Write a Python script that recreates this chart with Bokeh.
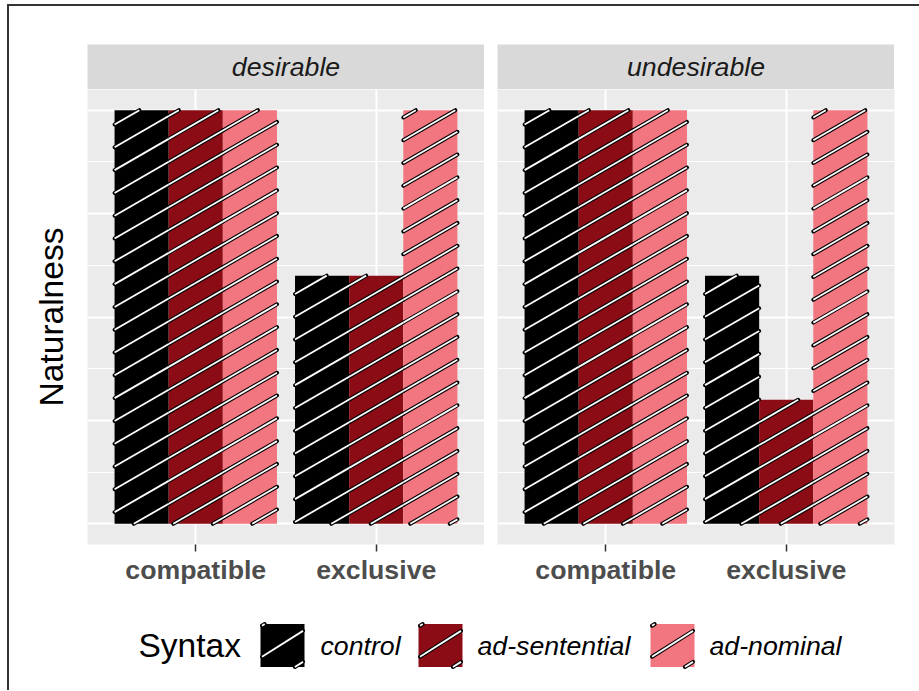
import math

from bokeh.plotting import figure
from bokeh.layouts import column, row
from bokeh.models import Spacer, FixedTicker, Range1d, ColumnDataSource
from bokeh.embed import file_html
from bokeh.resources import INLINE
from bokeh.core.properties import value

# ---- data -------------------------------------------------------------
conditions = ["compatible", "exclusive"]
syntax_levels = ["control", "ad-sentential", "ad-nominal"]
facets = ["desirable", "undesirable"]

desirable_control = [4.0, 2.4]
desirable_ad_sentential = [4.0, 2.4]
desirable_ad_nominal = [4.0, 4.0]

undesirable_control = [4.0, 2.4]
undesirable_ad_sentential = [4.0, 1.2]
undesirable_ad_nominal = [4.0, 4.0]

naturalness = {
    "desirable": [desirable_control, desirable_ad_sentential, desirable_ad_nominal],
    "undesirable": [undesirable_control, undesirable_ad_sentential, undesirable_ad_nominal],
}

# ---- styling ----------------------------------------------------------
FILLS = ["#000000", "#8C0C16", "#F27680"]
FONT = "Liberation Sans"
PANEL_BG = "#EBEBEB"
STRIP_BG = "#D9D9D9"

FRAME_W, FRAME_H = 397, 455
X_RANGE = (0.4, 2.6)
Y_RANGE = (-0.2, 4.2)
BAR_W = 0.3
STRIPE_ANGLE = 30.0      # degrees, on screen
STRIPE_GAP_PX = 22.8     # vertical distance between stripes, pixels
STRIPE_EDGE_W = 4.0
STRIPE_CORE_W = 1.8

LEFT = 78                # room for the y-axis title
GAP = 13                 # between facets
RIGHT = 25
BOTTOM = 55              # tick labels
STRIP_H = 45


def stripe_segments(x0, x1, y0, y1, slope, gap, phase=0.0):
    """Clip the family of lines y = slope*x + phase + k*gap to a rectangle."""
    xs, ys = [], []
    kmin = math.floor((y0 - slope * x1 - phase) / gap) - 1
    kmax = math.ceil((y1 - slope * x0 - phase) / gap) + 1
    for k in range(kmin, kmax + 1):
        c = phase + k * gap
        xa = max(x0, (y0 - c) / slope)
        xb = min(x1, (y1 - c) / slope)
        if xb - xa > 1e-9:
            xs.append([xa, xb])
            ys.append([slope * xa + c, slope * xb + c])
    return xs, ys


def draw_stripes(p, xs, ys):
    p.multi_line(xs, ys, line_color="black", line_width=STRIPE_EDGE_W, line_cap="round")
    p.multi_line(xs, ys, line_color="white", line_width=STRIPE_CORE_W, line_cap="butt")


def facet_figure(name, first):
    p = figure(
        width=(LEFT if first else GAP) + FRAME_W + (0 if first else RIGHT),
        height=FRAME_H + BOTTOM,
        x_range=Range1d(*X_RANGE), y_range=Range1d(*Y_RANGE),
        min_border_left=LEFT if first else GAP,
        min_border_right=0 if first else RIGHT,
        min_border_top=0, min_border_bottom=BOTTOM,
        output_backend="svg", toolbar_location=None,
    )
    p.background_fill_color = PANEL_BG
    p.border_fill_color = "white"
    p.outline_line_color = None

    # grid
    p.xgrid.ticker = FixedTicker(ticks=[1, 2])
    p.xgrid.grid_line_color = "white"
    p.xgrid.grid_line_width = 2.0
    p.ygrid.ticker = FixedTicker(ticks=[0, 1, 2, 3, 4], minor_ticks=[0.5, 1.5, 2.5, 3.5])
    p.ygrid.grid_line_color = "white"
    p.ygrid.grid_line_width = 2.0
    p.ygrid.minor_grid_line_color = "white"
    p.ygrid.minor_grid_line_width = 1.2

    # x axis
    p.xaxis.ticker = FixedTicker(ticks=[1, 2])
    p.xaxis.major_label_overrides = {1: conditions[0], 2: conditions[1]}
    p.xaxis.axis_line_color = None
    p.xaxis.minor_tick_line_color = None
    p.xaxis.major_tick_line_color = "#333333"
    p.xaxis.major_tick_line_width = 1.5
    p.xaxis.major_tick_in = 0
    p.xaxis.major_tick_out = 7
    p.xaxis.major_label_standoff = 3
    p.xaxis.major_label_text_font = FONT
    p.xaxis.major_label_text_font_size = "26.7px"
    p.xaxis.major_label_text_font_style = "bold"
    p.xaxis.major_label_text_color = "#4D4D4D"

    # y axis: title only
    if first:
        p.yaxis.ticker = FixedTicker(ticks=[])
        p.yaxis.axis_line_color = None
        p.yaxis.major_tick_line_color = None
        p.yaxis.minor_tick_line_color = None
        p.yaxis.major_label_text_font_size = "0px"
        p.yaxis.axis_label = "Naturalness"
        p.yaxis.axis_label_text_font = FONT
        p.yaxis.axis_label_text_font_size = "33.5px"
        p.yaxis.axis_label_text_font_style = "normal"
        p.yaxis.axis_label_text_color = "black"
        p.yaxis.axis_label_standoff = 18
    else:
        p.yaxis.visible = False

    # bars
    series = naturalness[name]
    px_per_x = FRAME_W / (X_RANGE[1] - X_RANGE[0])
    px_per_y = FRAME_H / (Y_RANGE[1] - Y_RANGE[0])
    slope = math.tan(math.radians(STRIPE_ANGLE)) * px_per_x / px_per_y
    gap = STRIPE_GAP_PX / px_per_y

    sx, sy = [], []
    for j, (level, vals) in enumerate(zip(syntax_levels, series)):
        xpos = [i + 1 + (j - 1) * BAR_W for i in range(len(conditions))]
        src = ColumnDataSource(dict(x=xpos, top=vals, cond=conditions,
                                    syntax=[level] * len(vals)))
        p.vbar(x="x", top="top", bottom=0, width=BAR_W, source=src,
               fill_color=FILLS[j], line_color=None)
        for x, top in zip(xpos, vals):
            xs, ys = stripe_segments(x - BAR_W / 2, x + BAR_W / 2, 0.0, top, slope, gap)
            sx += xs
            sy += ys

    draw_stripes(p, sx, sy)
    return p


def strip_figure(name):
    s = figure(width=FRAME_W, height=STRIP_H, x_range=Range1d(0, 1), y_range=Range1d(0, 1),
               min_border=0, x_axis_location=None, y_axis_location=None,
               output_backend="svg", toolbar_location=None)
    s.background_fill_color = STRIP_BG
    s.border_fill_color = STRIP_BG
    s.outline_line_color = None
    s.grid.visible = False
    s.text(x=[0.5], y=[0.5], text=[name], text_font=value(FONT), text_font_size="26.7px",
           text_font_style="italic", text_color="#1A1A1A",
           text_align="center", text_baseline="middle")
    return s


p1 = facet_figure(facets[0], True)
p2 = facet_figure(facets[1], False)
strips = row(Spacer(width=LEFT), strip_figure(facets[0]), Spacer(width=GAP), strip_figure(facets[1]))

# ---- legend -----------------------------------------------------------
LEG_W = p1.width + p2.width
LEG_H = 91
KEY_W, KEY_H = 44, 43
KEY_LEFT = [251, 409, 641]
LABEL_LEFT = [311, 468, 700]
LEG_CY = 45

leg = figure(width=LEG_W, height=LEG_H, x_range=Range1d(0, LEG_W), y_range=Range1d(0, LEG_H),
             min_border=0, x_axis_location=None, y_axis_location=None,
             output_backend="svg", toolbar_location=None)
leg.background_fill_color = "white"
leg.border_fill_color = "white"
leg.outline_line_color = None
leg.grid.visible = False

leg.text(x=[129], y=[LEG_CY], text=["Syntax"], text_font=value(FONT), text_font_size="33.5px",
         text_color="black", text_align="left", text_baseline="middle")

kx = [k + KEY_W / 2 for k in KEY_LEFT]
leg.rect(x=kx, y=[LEG_CY] * 3, width=KEY_W, height=KEY_H, fill_color=FILLS, line_color=None)
leg.text(x=LABEL_LEFT, y=[LEG_CY] * 3, text=syntax_levels, text_font=value(FONT),
         text_font_size="26.7px", text_font_style="italic", text_color="black",
         text_align="left", text_baseline="middle")

ksx, ksy = [], []
key_slope = 0.63
for k in KEY_LEFT:
    x0, x1 = k + 1.5, k + KEY_W - 1.5
    y0, y1 = LEG_CY - KEY_H / 2, LEG_CY + KEY_H / 2
    phase = LEG_CY + 1.7 - key_slope * (k + KEY_W / 2)
    xs, ys = stripe_segments(x0, x1, y0, y1, key_slope, 31.0, phase)
    ksx += xs
    ksy += ys
draw_stripes(leg, ksx, ksy)

layout = column(
    Spacer(height=38),
    strips,
    row(p1, p2),
    leg,
    margin=(4, 0, 0, 7),
    styles={"border-top": "2px solid #333333", "border-left": "2px solid #333333"},
)

with open("out.html", "w") as f:
    f.write(file_html(layout, INLINE))
